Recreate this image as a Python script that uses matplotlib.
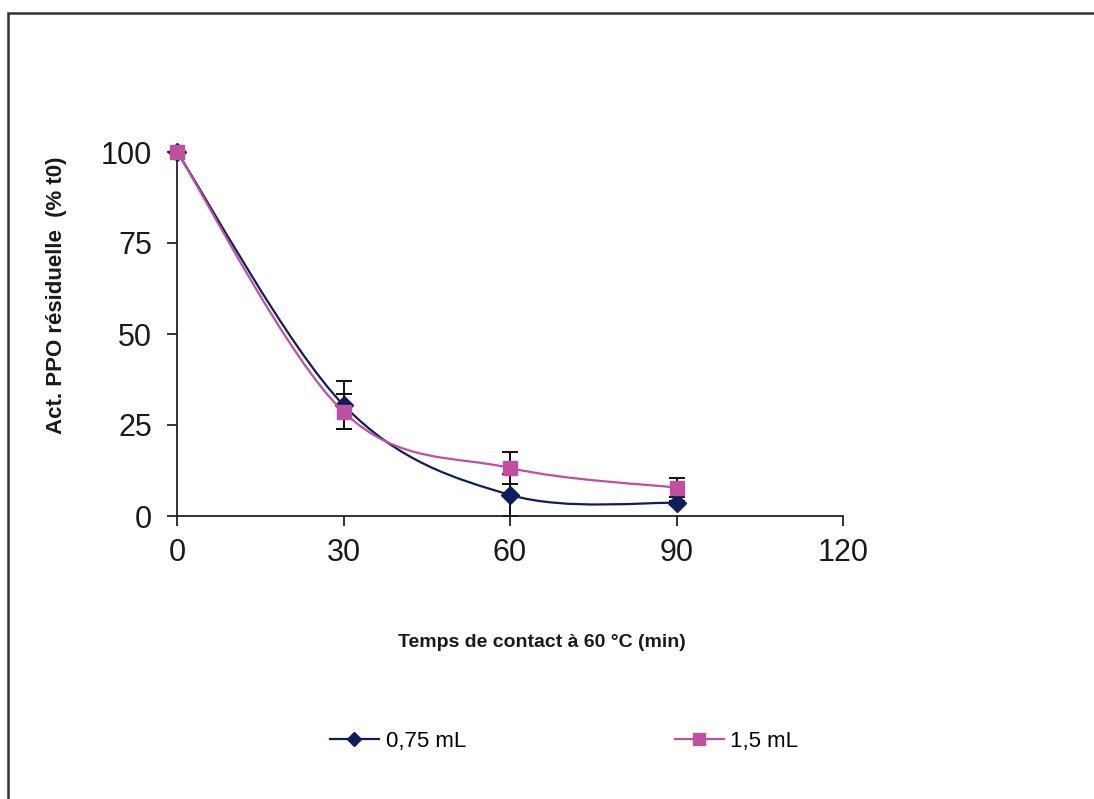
import numpy as np
import matplotlib
matplotlib.use("Agg")
import matplotlib.pyplot as plt
from matplotlib.patches import Rectangle
from matplotlib.path import Path
from matplotlib.patches import PathPatch
from matplotlib.lines import Line2D

plt.rcParams['font.family'] = ['Liberation Sans', 'DejaVu Sans']

time_min = [0, 30, 60, 90]
act_075 = [100, 30.5, 5.8, 3.6]
err_075 = [0.0, 6.5, 5.8, 0.5]
act_15 = [100, 28.6, 13.2, 7.8]
err_15 = [0.0, 4.8, 4.4, 2.6]
labels = ["0,75 mL", "1,5 mL"]
xticks = [0, 30, 60, 90, 120]
yticks = [0, 25, 50, 75, 100]

blue = '#0f1c5e'
pink = '#c04fa0'

W, H = 1094, 799
fig = plt.figure(figsize=(W / 100, H / 100), dpi=100)
ax = fig.add_axes([177 / W, 1 - 516 / H, (843 - 177) / W, (516 - 152) / H])
ax.set_xlim(0, 120)
ax.set_ylim(0, 100)

# pixel scale for smoothing in screen space
sx, sy = 5.55, 3.64


def smooth_path(x, y):
    P = np.column_stack([np.asarray(x, float) * sx, np.asarray(y, float) * sy])
    n = len(P)
    verts = [P[0]]
    codes = [Path.MOVETO]
    for i in range(n - 1):
        p0 = P[i - 1] if i > 0 else P[i]
        p1 = P[i]
        p2 = P[i + 1]
        p3 = P[i + 2] if i + 2 < n else P[i + 1]
        c1 = p1 + (p2 - p0) / 6.0
        c2 = p2 - (p3 - p1) / 6.0
        verts += [c1, c2, p2]
        codes += [Path.CURVE4] * 3
    V = np.array(verts)
    V[:, 0] /= sx
    V[:, 1] /= sy
    return Path(V, codes)


# error bars
ax.errorbar(time_min, act_075, yerr=err_075, fmt='none', ecolor='#111111',
            elinewidth=1.4, capsize=6, capthick=1.4, zorder=2, clip_on=False)
ax.errorbar(time_min, act_15, yerr=err_15, fmt='none', ecolor='#111111',
            elinewidth=1.4, capsize=6, capthick=1.4, zorder=2, clip_on=False)

for yv, col, z in [(act_075, blue, 3), (act_15, pink, 4)]:
    ax.add_patch(PathPatch(smooth_path(time_min, yv), fill=False, edgecolor=col,
                           lw=1.6, zorder=z, clip_on=False))

ax.plot(time_min, act_075, linestyle='none', marker='D', markersize=9,
        color=blue, zorder=3, clip_on=False)
ax.plot(time_min, act_15, linestyle='none', marker='s', markersize=10,
        color=pink, zorder=4, clip_on=False)

for s in ['top', 'right']:
    ax.spines[s].set_visible(False)
for s in ['left', 'bottom']:
    ax.spines[s].set_color('#222222')
    ax.spines[s].set_linewidth(1.3)

ax.set_xticks(xticks)
ax.set_yticks(yticks)
ax.tick_params(axis='both', direction='out', length=7, width=1.3, color='#222222',
               labelsize=22, labelcolor='#1a1a1a')
ax.tick_params(axis='x', pad=9)
ax.tick_params(axis='y', pad=11)

ax.set_ylabel("Act. PPO résiduelle  (% t0)", fontsize=16, fontweight='bold', color='#1a1a1a')
ax.yaxis.set_label_coords(-0.165, 0.607)
ax.set_xlabel("Temps de contact à 60 °C (min)", fontsize=14, fontweight='bold', color='#1a1a1a')
ax.xaxis.set_label_coords(0.548, -0.325)

# legend handles
lh1 = Line2D([], [], color=blue, lw=1.6, marker='D', markersize=7)
lh2 = Line2D([], [], color=pink, lw=1.6, marker='s', markersize=8)
fig.legend([lh1, lh2], labels, loc='center left', bbox_to_anchor=(330 / W, 1 - 741 / H),
           ncol=2, frameon=False, fontsize=16, handlelength=2.2, handletextpad=0.3,
           columnspacing=9.4, borderpad=0, borderaxespad=0)

# outer frame
fig.patches.append(Rectangle((8 / W, -0.1), 1.2, (H - 13) / H + 0.1, transform=fig.transFigure,
                             fill=False, edgecolor='#333333', lw=1.8, figure=fig))

fig.savefig('out.png', dpi=100)
